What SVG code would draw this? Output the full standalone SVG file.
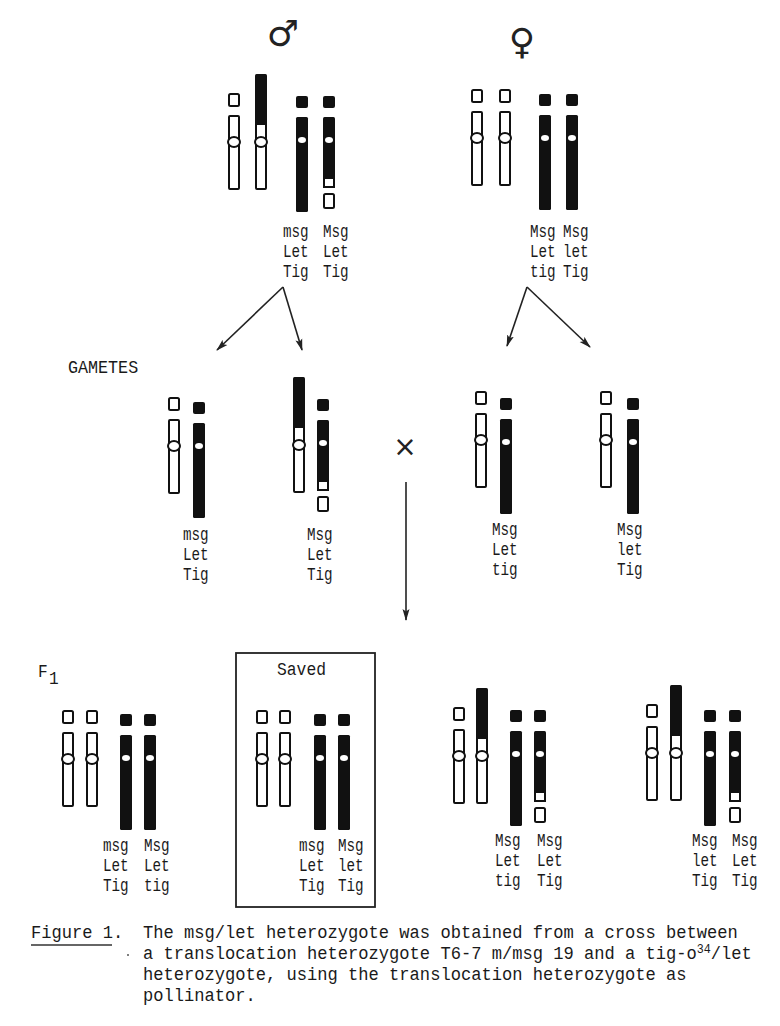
<svg xmlns="http://www.w3.org/2000/svg" xmlns:xlink="http://www.w3.org/1999/xlink" width="780" height="1026" viewBox="0 0 780 1026">
<style>
.o{fill:#fff;stroke:#111;stroke-width:2}
.b{fill:#111}
.w{fill:#fff}
.lab{font-family:"Liberation Mono",monospace;font-size:19px;fill:#1a1a1a}
.cap{font-family:"Liberation Mono",monospace;font-size:19px;fill:#1a1a1a}
.sym{font-family:"DejaVu Sans",sans-serif;fill:#222}
.con{stroke:#222;stroke-width:1.6;fill:none}
</style>
<defs>
<marker id="ah" viewBox="0 0 12 8" refX="11" refY="4" markerWidth="12" markerHeight="8" markerUnits="userSpaceOnUse" orient="auto">
<path d="M0,0.5 L12,4 L0,7.5 L2.5,4 Z" fill="#222"/>
</marker>
<g id="open">
<rect class="o" x="1" y="-48" width="10" height="12" rx="1.5"/>
<rect class="o" x="1" y="-26" width="10" height="24" rx="1"/>
<rect class="o" x="1" y="2" width="10" height="45" rx="1"/>
<ellipse class="o" cx="6" cy="0" rx="6" ry="5"/>
</g>
<g id="trans">
<rect class="b" x="0" y="-68" width="12" height="50" rx="1.5"/>
<rect class="o" x="1" y="-18" width="10" height="16"/>
<rect class="o" x="1" y="2" width="10" height="45" rx="1"/>
<ellipse class="o" cx="6" cy="0" rx="6" ry="5"/>
</g>
<g id="black">
<rect class="b" x="0" y="-44" width="12" height="12" rx="2"/>
<rect class="b" x="0" y="-23" width="12" height="95" rx="1.5"/>
<ellipse class="w" cx="6" cy="0" rx="4" ry="3"/>
</g>
<g id="blackTip">
<rect class="b" x="0" y="-44" width="12" height="12" rx="2"/>
<rect class="b" x="0" y="-23" width="12" height="61" rx="1.5"/>
<rect class="o" x="1" y="38" width="10" height="9"/>
<rect class="o" x="1" y="54" width="10" height="14" rx="1.5"/>
<ellipse class="w" cx="6" cy="0" rx="4" ry="3"/>
</g>
</defs>
<rect width="780" height="1026" fill="#fff"/>

<g id="male">
<text class="sym" x="283" y="46" font-size="36" text-anchor="middle">♂</text>
<use xlink:href="#open" x="228" y="142"/>
<use xlink:href="#trans" x="255" y="142"/>
<use xlink:href="#black" x="296" y="140"/>
<use xlink:href="#blackTip" x="323" y="140"/>
<text class="lab" transform="translate(283,237) scale(0.75,1)"><tspan x="0" y="0">msg</tspan><tspan x="0" y="20">Let</tspan><tspan x="0" y="40">Tig</tspan></text>
<text class="lab" transform="translate(323,237) scale(0.75,1)"><tspan x="0" y="0">Msg</tspan><tspan x="0" y="20">Let</tspan><tspan x="0" y="40">Tig</tspan></text>
</g>

<g id="female">
<text class="sym" x="522" y="54" font-size="36" text-anchor="middle">♀</text>
<use xlink:href="#open" x="471" y="138"/>
<use xlink:href="#open" x="499" y="138"/>
<use xlink:href="#black" x="539" y="138"/>
<use xlink:href="#black" x="566" y="138"/>
<text class="lab" transform="translate(530,237) scale(0.75,1)"><tspan x="0" y="0">Msg</tspan><tspan x="0" y="20">Let</tspan><tspan x="0" y="40">tig</tspan></text>
<text class="lab" transform="translate(563,237) scale(0.75,1)"><tspan x="0" y="0">Msg</tspan><tspan x="0" y="20">let</tspan><tspan x="0" y="40">Tig</tspan></text>
</g>

<g id="connectors">
<line class="con" x1="283" y1="287" x2="217" y2="350" marker-end="url(#ah)"/>
<line class="con" x1="283" y1="287" x2="302" y2="350" marker-end="url(#ah)"/>
<line class="con" x1="527" y1="287" x2="507" y2="346" marker-end="url(#ah)"/>
<line class="con" x1="527" y1="287" x2="590" y2="347" marker-end="url(#ah)"/>
<line class="con" x1="406" y1="482" x2="406" y2="620" marker-end="url(#ah)"/>
</g>

<g id="gametes-label">
<text class="lab" transform="translate(68,373) scale(0.88,1)">GAMETES</text>
</g>

<g id="gamete1">
<use xlink:href="#open" x="168" y="446"/>
<use xlink:href="#black" x="193" y="446"/>
<text class="lab" transform="translate(183,540) scale(0.75,1)"><tspan x="0" y="0">msg</tspan><tspan x="0" y="20">Let</tspan><tspan x="0" y="40">Tig</tspan></text>
</g>
<g id="gamete2">
<use xlink:href="#trans" x="293" y="445"/>
<use xlink:href="#blackTip" x="317" y="443"/>
<text class="lab" transform="translate(307,540) scale(0.75,1)"><tspan x="0" y="0">Msg</tspan><tspan x="0" y="20">Let</tspan><tspan x="0" y="40">Tig</tspan></text>
</g>

<g id="cross">
<text class="sym" x="405" y="456" font-size="28" text-anchor="middle">×</text>
</g>

<g id="gamete3">
<use xlink:href="#open" x="475" y="440"/>
<use xlink:href="#black" x="500" y="442"/>
<text class="lab" transform="translate(492,535) scale(0.75,1)"><tspan x="0" y="0">Msg</tspan><tspan x="0" y="20">Let</tspan><tspan x="0" y="40">tig</tspan></text>
</g>
<g id="gamete4">
<use xlink:href="#open" x="600" y="440"/>
<use xlink:href="#black" x="627" y="442"/>
<text class="lab" transform="translate(617,535) scale(0.75,1)"><tspan x="0" y="0">Msg</tspan><tspan x="0" y="20">let</tspan><tspan x="0" y="40">Tig</tspan></text>
</g>

<g id="f1-label">
<text class="lab" transform="translate(38,677) scale(0.85,1)">F</text>
<text class="lab" transform="translate(49,684) scale(0.85,1)" font-size="13">1</text>
</g>

<g id="f1-a">
<use xlink:href="#open" x="62" y="759"/>
<use xlink:href="#open" x="86" y="759"/>
<use xlink:href="#black" x="120" y="758"/>
<use xlink:href="#black" x="144" y="758"/>
<text class="lab" transform="translate(103,851) scale(0.75,1)"><tspan x="0" y="0">msg</tspan><tspan x="0" y="20">Let</tspan><tspan x="0" y="40">Tig</tspan></text>
<text class="lab" transform="translate(144,851) scale(0.75,1)"><tspan x="0" y="0">Msg</tspan><tspan x="0" y="20">Let</tspan><tspan x="0" y="40">tig</tspan></text>
</g>

<g id="f1-saved">
<rect x="236" y="653" width="139" height="254" fill="none" stroke="#222" stroke-width="1.8"/>
<text class="lab" transform="translate(277,675) scale(0.86,1)">Saved</text>
<use xlink:href="#open" x="256" y="759"/>
<use xlink:href="#open" x="279" y="759"/>
<use xlink:href="#black" x="314" y="758"/>
<use xlink:href="#black" x="338" y="758"/>
<text class="lab" transform="translate(299,851) scale(0.75,1)"><tspan x="0" y="0">msg</tspan><tspan x="0" y="20">Let</tspan><tspan x="0" y="40">Tig</tspan></text>
<text class="lab" transform="translate(338,851) scale(0.75,1)"><tspan x="0" y="0">Msg</tspan><tspan x="0" y="20">let</tspan><tspan x="0" y="40">Tig</tspan></text>
</g>

<g id="f1-c">
<use xlink:href="#open" x="453" y="756"/>
<use xlink:href="#trans" x="476" y="756"/>
<use xlink:href="#black" x="510" y="754"/>
<use xlink:href="#blackTip" x="534" y="754"/>
<text class="lab" transform="translate(495,846) scale(0.75,1)"><tspan x="0" y="0">Msg</tspan><tspan x="0" y="20">Let</tspan><tspan x="0" y="40">tig</tspan></text>
<text class="lab" transform="translate(537,846) scale(0.75,1)"><tspan x="0" y="0">Msg</tspan><tspan x="0" y="20">Let</tspan><tspan x="0" y="40">Tig</tspan></text>
</g>

<g id="f1-d">
<use xlink:href="#open" x="646" y="753"/>
<use xlink:href="#trans" x="670" y="753"/>
<use xlink:href="#black" x="704" y="754"/>
<use xlink:href="#blackTip" x="729" y="754"/>
<text class="lab" transform="translate(692,846) scale(0.75,1)"><tspan x="0" y="0">Msg</tspan><tspan x="0" y="20">let</tspan><tspan x="0" y="40">Tig</tspan></text>
<text class="lab" transform="translate(732,846) scale(0.75,1)"><tspan x="0" y="0">Msg</tspan><tspan x="0" y="20">Let</tspan><tspan x="0" y="40">Tig</tspan></text>
</g>

<g id="caption">
<text class="cap" transform="translate(31,938) scale(0.9,1)">Figure 1.</text>
<line x1="31" y1="945" x2="112" y2="945" stroke="#333" stroke-width="1.6"/>
<circle cx="128" cy="955" r="1" fill="#555"/>
<text class="cap" transform="translate(143,938) scale(0.9,1)">The msg/let heterozygote was obtained from a cross between</text>
<text class="cap" transform="translate(143,959) scale(0.9,1)">a translocation heterozygote T6-7 m/msg 19 and a tig-o<tspan font-size="13" dy="-6">34</tspan><tspan dy="6">/let</tspan></text>
<text class="cap" transform="translate(143,980) scale(0.9,1)">heterozygote, using the translocation heterozygote as</text>
<text class="cap" transform="translate(143,1001) scale(0.9,1)">pollinator.</text>
</g>
</svg>
